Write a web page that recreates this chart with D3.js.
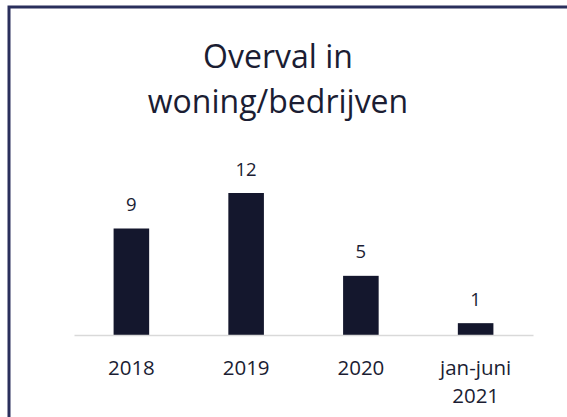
<!DOCTYPE html>
<meta charset="utf-8">
<style>
body { margin: 0; background: #fff; }
text { font-family: "Open Sans", sans-serif; fill: #1b1d33; }
</style>
<svg width="567" height="417"></svg>
<script src="https://d3js.org/d3.v7.min.js"></script>
<script>
// data
var categories = ["2018", "2019", "2020", "jan-juni\n2021"];
var values = [9, 12, 5, 1];
var titleLines = ["Overval in", "woning/bedrijven"];

var svg = d3.select("svg"),
  width = +svg.attr("width"),
  height = +svg.attr("height");

// chart frame
svg.append("rect")
  .attr("x", 9).attr("y", 7)
  .attr("width", width + 20).attr("height", height + 20)
  .attr("fill", "none")
  .attr("stroke", "#2a2f5c")
  .attr("stroke-width", 3);

svg.append("text")
  .attr("text-anchor", "middle")
  .attr("font-size", 32)
  .selectAll("tspan")
  .data(titleLines)
  .enter().append("tspan")
  .attr("x", 278)
  .attr("y", function(d, i) { return 68 + i * 45; })
  .text(function(d) { return d; });

var x = d3.scaleBand()
  .domain(categories)
  .range([74, 533])
  .paddingInner(0.69)
  .paddingOuter(0.345);

var y = d3.scaleLinear()
  .domain([0, 12])
  .range([335, 193]);

// bars
svg.append("g")
  .selectAll("rect")
  .data(values)
  .enter().append("rect")
  .attr("x", function(d, i) { return x(categories[i]); })
  .attr("y", function(d) { return y(d); })
  .attr("width", x.bandwidth())
  .attr("height", function(d) { return y(0) - y(d); })
  .attr("fill", "#14172d");

// value labels
svg.append("g")
  .selectAll("text")
  .data(values)
  .enter().append("text")
  .attr("x", function(d, i) { return x(categories[i]) + x.bandwidth() / 2; })
  .attr("y", function(d) { return y(d) - 17.5; })
  .attr("text-anchor", "middle")
  .attr("font-size", 18.5)
  .text(function(d) { return d; });

// x axis
var axis = svg.append("g")
  .attr("transform", "translate(0," + y(0) + ")")
  .call(d3.axisBottom(x).tickSize(0).tickFormat(""));
axis.select(".domain").attr("stroke", "#d9d9d9").attr("stroke-width", 1.5);

axis.selectAll(".tick").append("text")
  .attr("text-anchor", "middle")
  .attr("font-size", 20.5)
  .selectAll("tspan")
  .data(function(d) { return d.split("\n"); })
  .enter().append("tspan")
  .attr("x", 0)
  .attr("y", function(d, i) { return 40 + i * 28; })
  .text(function(d) { return d; });
</script>
